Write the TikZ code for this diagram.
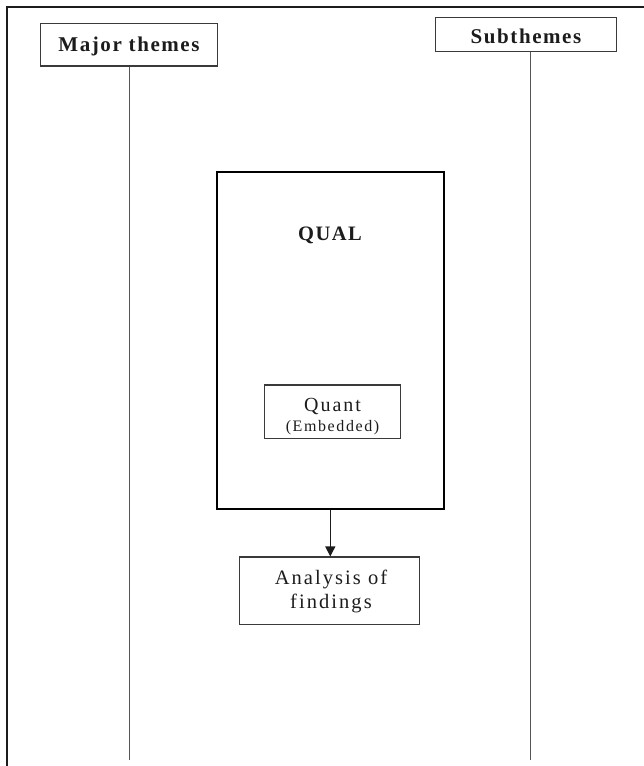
\documentclass[tikz,border=0pt]{standalone}
\usepackage{fontspec}
\setmainfont{Liberation Serif}
\newfontfamily\boldls[LetterSpace=7.5]{Liberation Serif}
\newfontfamily\regls[LetterSpace=10]{Liberation Serif}
\usetikzlibrary{arrows.meta}
\definecolor{inkc}{HTML}{1C1C1C}
\definecolor{boxc}{HTML}{3A3A3A}
\definecolor{linec}{HTML}{555555}
\begin{document}
\begin{tikzpicture}[x=1pt,y=-1pt,
  box/.style={draw=boxc, line width=1.2pt, rectangle, inner sep=0pt},
  headtxt/.style={anchor=base, inner sep=0pt, text=inkc, font=\boldls\bfseries\fontsize{21}{25}\selectfont},
  bodytxt/.style={anchor=base, inner sep=0pt, text=inkc},
  vline/.style={draw=linec, line width=1pt},
  frameline/.style={draw=inkc, line width=1.3pt}]
\useasboundingbox (0,0) rectangle (644,766);
% outer frame
\coordinate (fbl) at (7,766);
\coordinate (ftl) at (7,7);
\coordinate (ftr) at (644,7);
\draw[frameline] (fbl) -- (ftl) -- (ftr);
% theme boxes
\node[box, minimum width=177pt, minimum height=42.7pt] (major) at (129.2,44.7) {};
\node[headtxt] (majort) at (129,51) {Major themes};
\node[box, minimum width=181pt, minimum height=34.4pt] (sub) at (526.2,34.5) {};
\node[headtxt] (subt) at (526,43.3) {Subthemes};
\coordinate (majorend) at (129.3,760);
\coordinate (subend) at (530,760);
\draw[vline] (major.south -| majorend) -- (majorend);
\draw[vline] (sub.south -| subend) -- (subend);
% QUAL box
\node[draw=black, line width=2pt, rectangle, inner sep=0pt, minimum width=227.3pt, minimum height=337pt] (qual) at (330.7,340.8) {};
\node[headtxt, font=\boldls\bfseries\fontsize{20.5}{24}\selectfont] (qualt) at (330,240.7) {QUAL};
% Quant box
\node[box, minimum width=136pt, minimum height=53.3pt] (quant) at (332.3,411.7) {};
\node[bodytxt, font=\regls\fontsize{20}{24}\selectfont] (quantt) at (332.5,411.7) {Quant};
\node[bodytxt, font=\regls\fontsize{16}{20}\selectfont] (embt) at (332.5,431.7) {(Embedded)};
% Analysis box
\node[box, minimum width=180pt, minimum height=67.3pt] (ana) at (329.3,590.7) {};
\node[bodytxt, font=\regls\fontsize{20.5}{24}\selectfont] (anat1) at (331,584) {Analysis of};
\node[bodytxt, font=\regls\fontsize{20.5}{24}\selectfont] (anat2) at (331,608.5) {findings};
% arrow
\draw[draw=inkc, line width=1.2pt, -{Triangle[length=10pt,width=10pt]}] ([xshift=-0.4pt]qual.south) -- ([xshift=-0.4pt]qual.south |- ana.north);
\end{tikzpicture}
\end{document}
